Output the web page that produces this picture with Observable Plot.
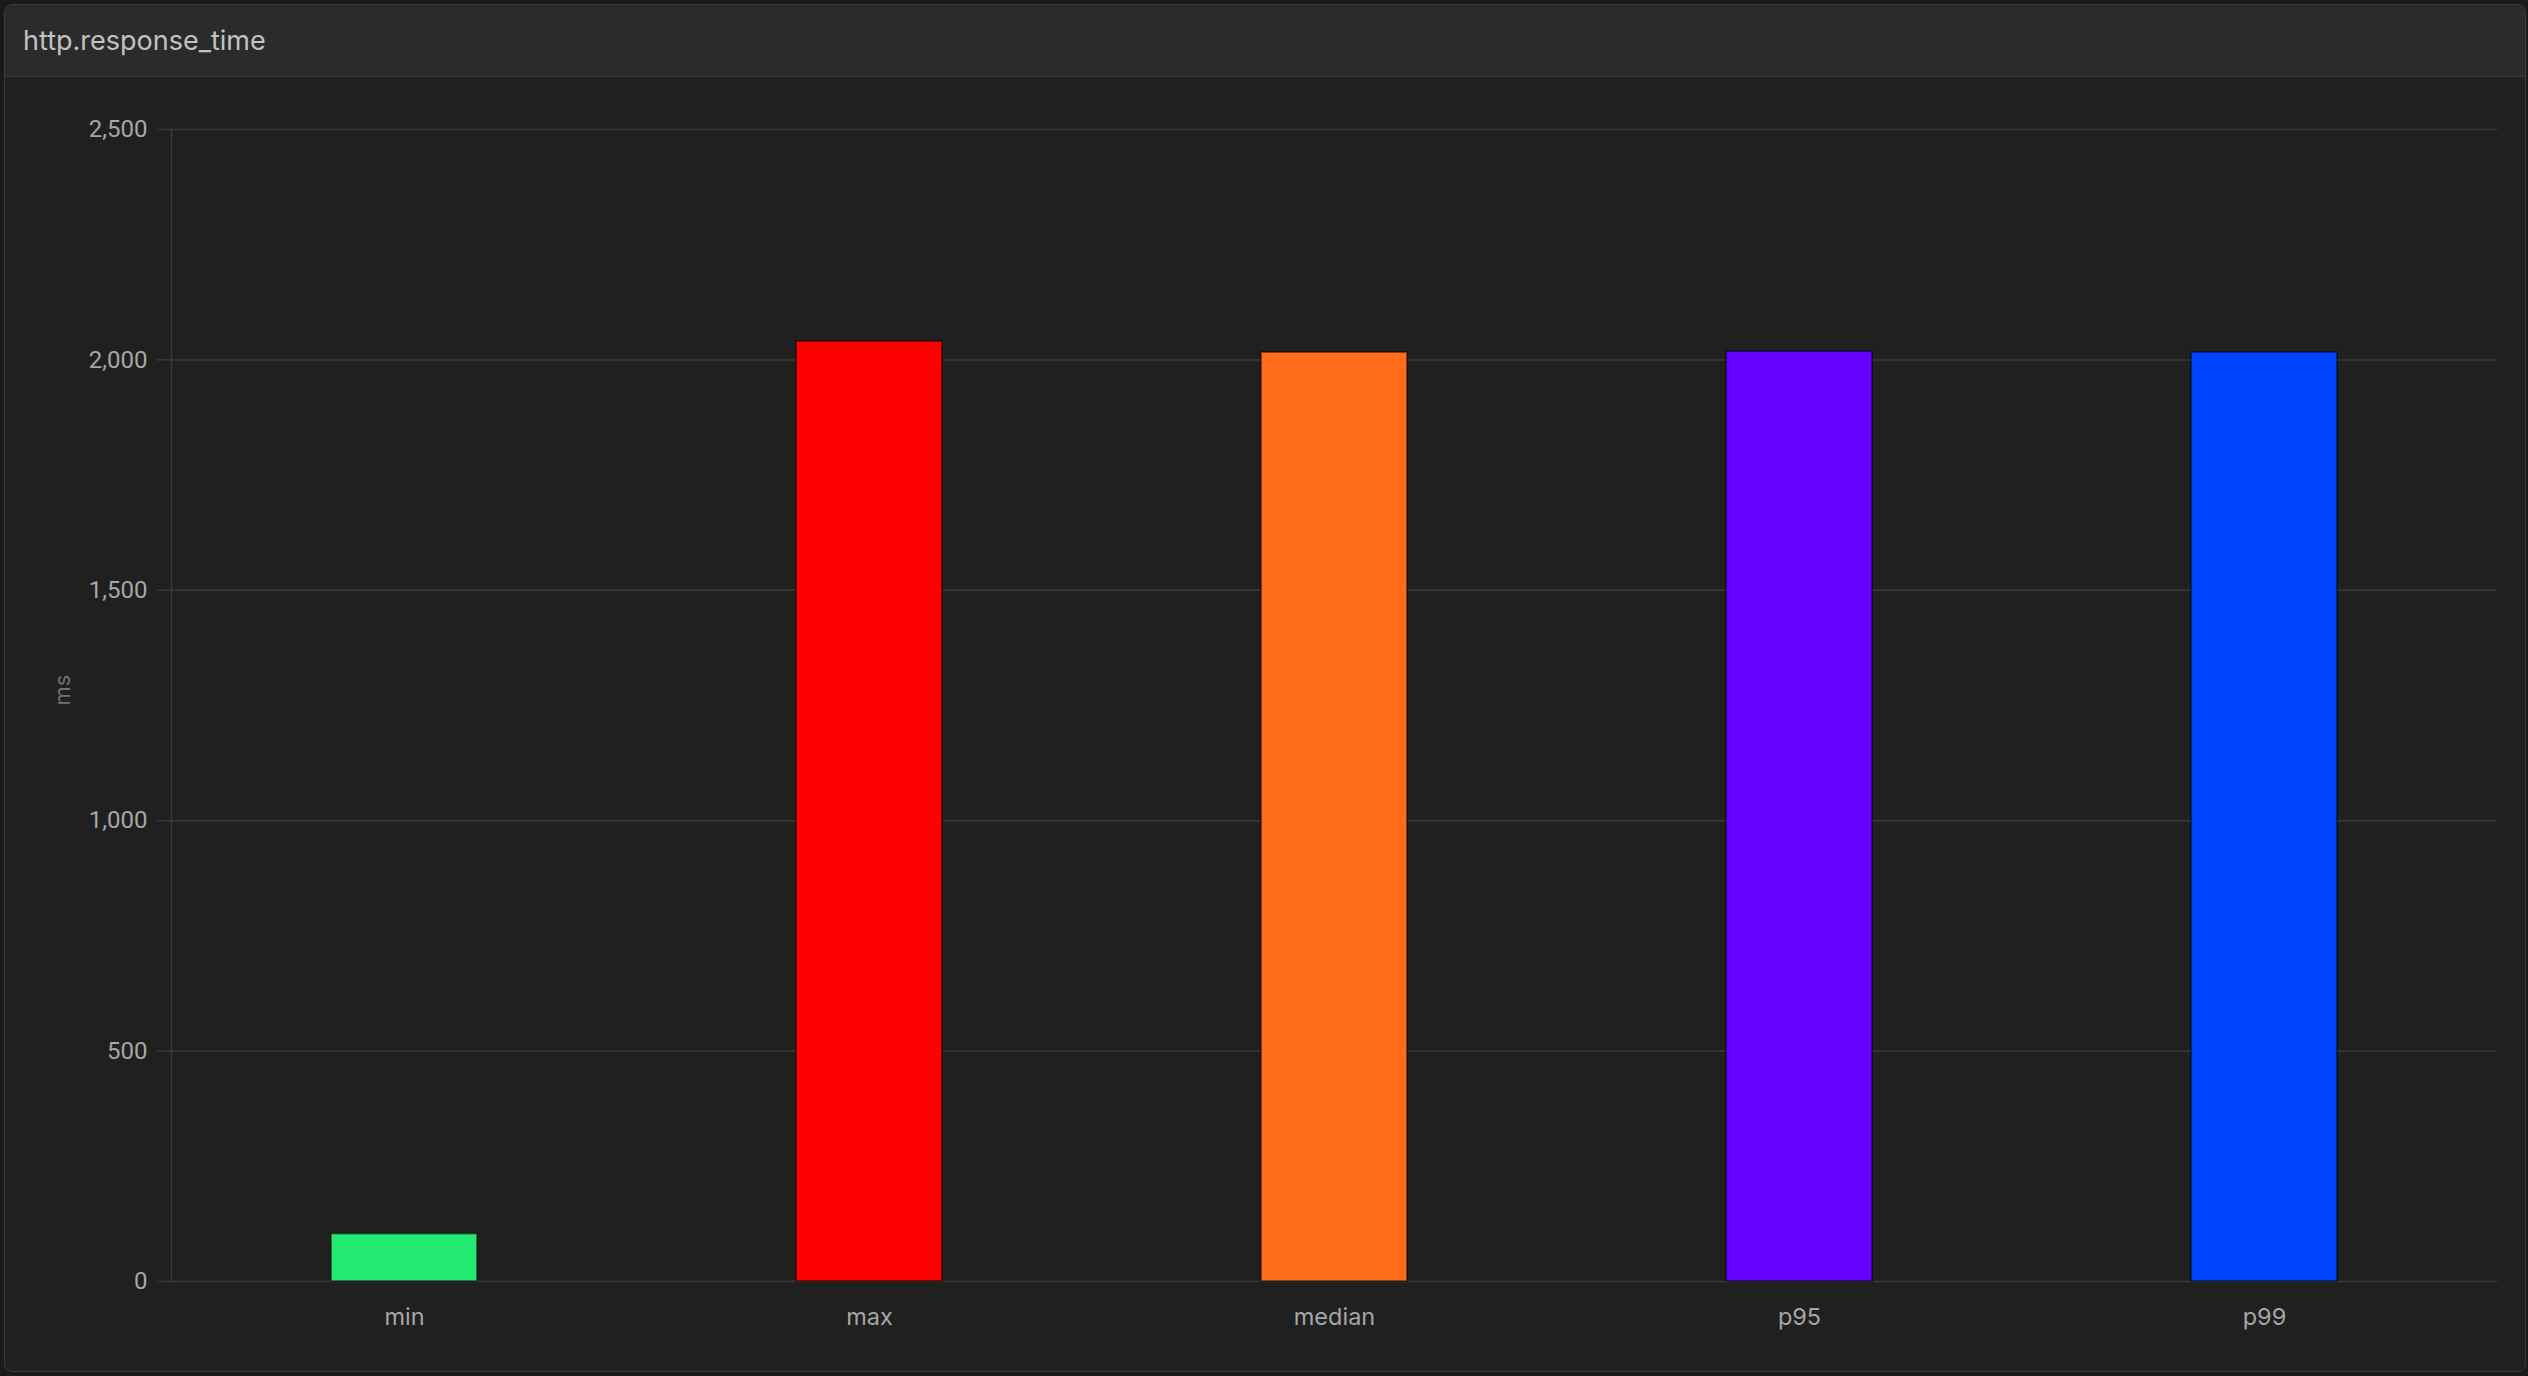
<!DOCTYPE html>
<html><head><meta charset="utf-8">
<script src="https://cdn.jsdelivr.net/npm/d3@7"></script>
<script src="https://cdn.jsdelivr.net/npm/@observablehq/plot@0.6"></script>
<style>
html,body{margin:0;padding:0;background:#1a1a1a;}
body{width:2528px;height:1376px;overflow:hidden;font-family:Inter,"Noto Sans",sans-serif;position:relative;}
#panel{position:absolute;left:4px;top:4px;width:2520px;height:1366px;border:1px solid #3a3a3a;border-radius:8px;background:#202020;overflow:hidden;}
#hdr{height:71px;line-height:71px;background:#2b2b2b;border-bottom:1px solid #3c3c3c;padding-left:18px;color:#c2c2c2;font-size:27px;}
#chart svg{display:block;}
</style>
</head><body>
<div id="panel"><div id="hdr">http.response_time</div><div id="chart"></div></div>
<script>
const categories = ["min", "max", "median", "p95", "p99"];
const values = [103, 2040, 2016, 2018, 2016];
const colors = ["#25EA71", "#FF0000", "#FF6D1C", "#6600FF", "#0044FF"];
const yTicks = [0, 500, 1000, 1500, 2000, 2500];
const yLabel = "ms";

const data = categories.map((c, i) => ({cat: c, value: values[i]}));

const chart = Plot.plot({
  width: 2520,
  height: 1292,
  marginLeft: 166,
  marginRight: 28,
  marginTop: 52,
  marginBottom: 88,
  style: {background: "transparent", fontFamily: "Inter, 'Noto Sans', sans-serif", overflow: "visible"},
  x: {domain: categories, paddingInner: 0.686, paddingOuter: 0.343, label: null},
  y: {domain: [0, 2500], label: null},
  color: {domain: categories, range: colors},
  marks: [
    Plot.gridY(yTicks, {stroke: "#3a3a3a", strokeOpacity: 1, strokeWidth: 1.5}),
    Plot.frame({anchor: "left", stroke: "#3a3a3a", strokeWidth: 1.5}),
    Plot.barY(data, {x: "cat", y: "value", fill: "cat", stroke: "#000", strokeOpacity: 0.45, strokeWidth: 2}),
    Plot.axisY(yTicks, {tickSize: 14, tickPadding: 10, tickFormat: d3.format(","), fontSize: 24, fontFamily: "Roboto, sans-serif", fill: "#a6a6a6", stroke: "#3a3a3a", strokeWidth: 1.5, label: null}),
    Plot.axisX({tickSize: 0, tickPadding: 27, fontSize: 23.5, fill: "#a6a6a6", label: null}),
    Plot.text([yLabel], {frameAnchor: "left", dx: -109, rotate: -90, fill: "#707070", fontSize: 22, text: d => d})
  ]
});
document.getElementById("chart").appendChild(chart);
</script>
</body></html>
